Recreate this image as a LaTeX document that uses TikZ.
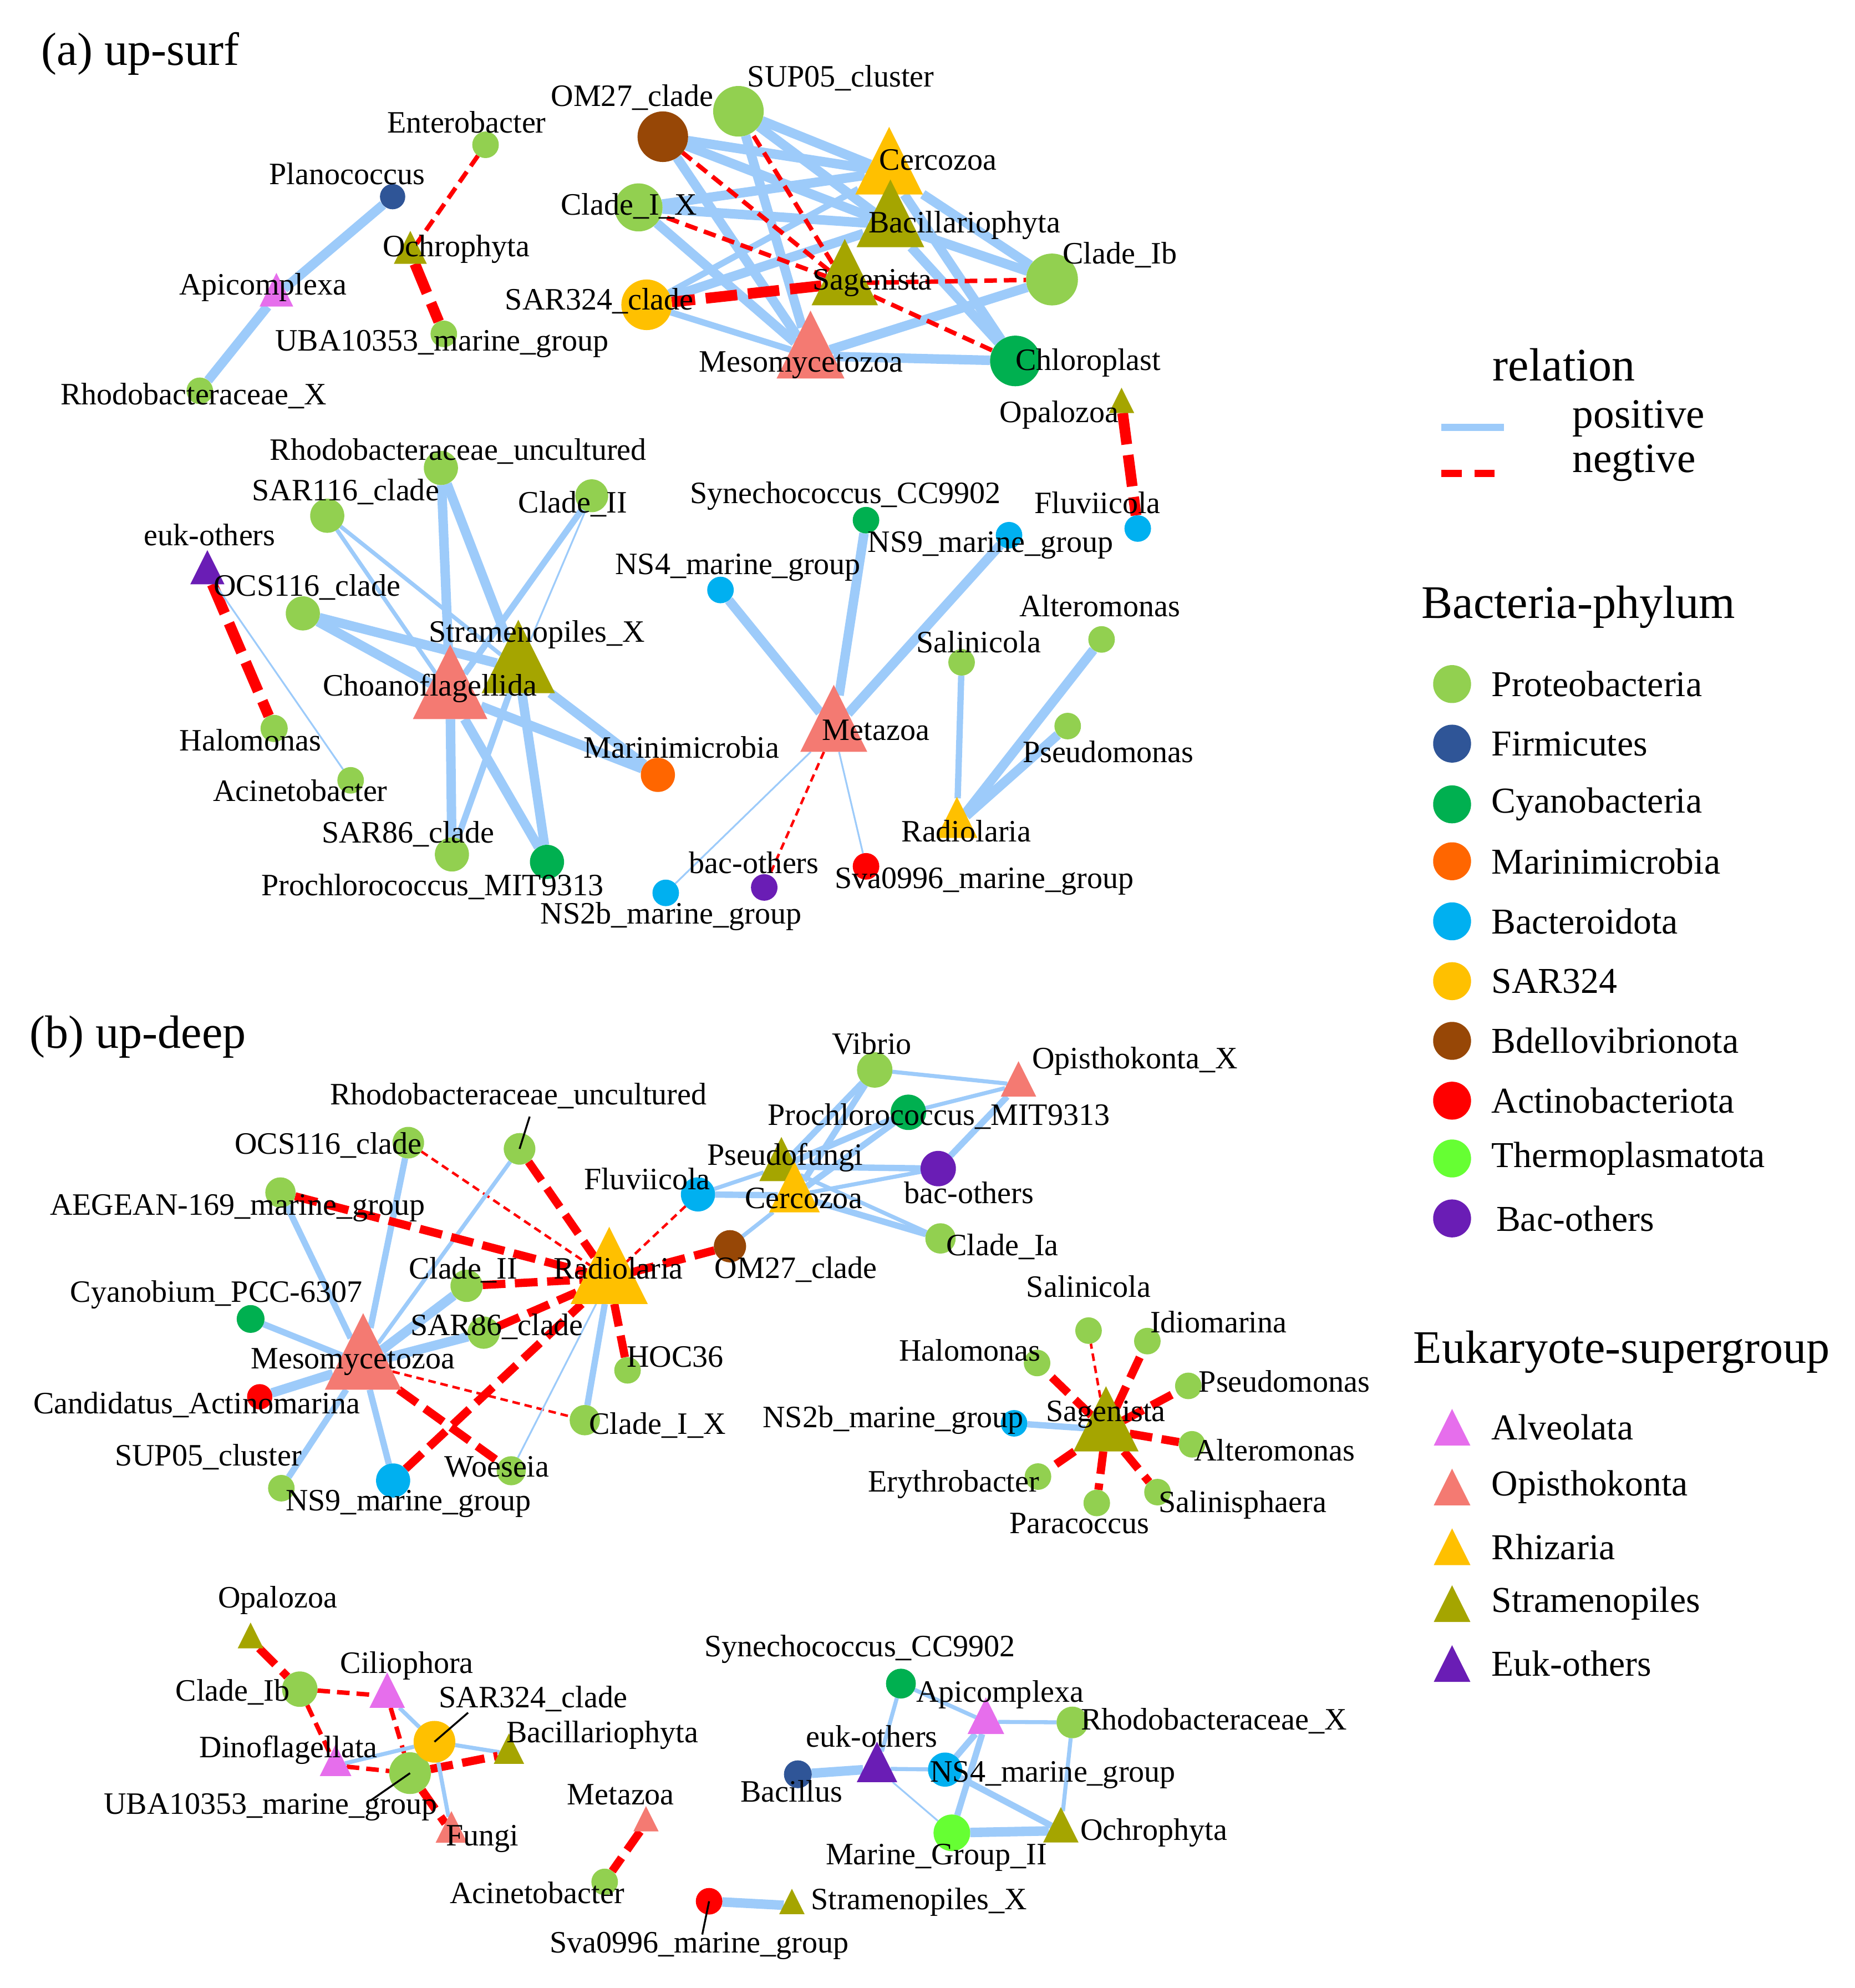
\documentclass[tikz,border=0pt]{standalone}
\usepackage{fontspec}
\setmainfont{Liberation Serif}
\usetikzlibrary{shapes.geometric}
\pgfdeclarelayer{background}
\pgfsetlayers{background,main}

\definecolor{proteo}{HTML}{92D050}
\definecolor{firmi}{HTML}{2F5597}
\definecolor{cyano}{HTML}{00B050}
\definecolor{marini}{HTML}{FF6600}
\definecolor{bactero}{HTML}{00B0F0}
\definecolor{sarclr}{HTML}{FFC000}
\definecolor{bdello}{HTML}{974706}
\definecolor{actino}{HTML}{FF0000}
\definecolor{thermo}{HTML}{66FF33}
\definecolor{bacoth}{HTML}{6A1DB5}
\definecolor{alveo}{HTML}{E66EEC}
\definecolor{opistho}{HTML}{F47A72}
\definecolor{rhiz}{HTML}{FFC000}
\definecolor{stram}{HTML}{A5A500}
\definecolor{eukoth}{HTML}{6A1DB5}
\definecolor{posline}{HTML}{9DCBFA}
\definecolor{negline}{HTML}{FF0000}

\tikzset{dot/.style={circle,inner sep=0pt,outer sep=0pt,minimum size=#1*0.1mm}}
\tikzset{tri/.style={regular polygon,regular polygon sides=3,inner sep=0pt,outer sep=0pt,minimum size=#1*0.11547mm,yscale=1.1547}}
\tikzstyle{posthin}=[draw=posline,line width=0.14mm]
\tikzstyle{posmid}=[draw=posline,line width=0.32mm]
\tikzstyle{poswide}=[draw=posline,line width=0.5mm]
\tikzstyle{posbold}=[draw=posline,line width=0.75mm]
\tikzstyle{negthin}=[draw=negline,line width=0.2mm,dash pattern=on 0.6mm off 0.38mm]
\tikzstyle{negmid}=[draw=negline,line width=0.35mm,dash pattern=on 1mm off 0.55mm]
\tikzstyle{negwide}=[draw=negline,line width=0.65mm,dash pattern=on 1.8mm off 0.75mm]
\tikzstyle{negbold}=[draw=negline,line width=0.85mm,dash pattern=on 2.5mm off 0.85mm]
\tikzstyle{lead}=[draw=black,line width=0.15mm]
\tikzstyle{lab}=[inner sep=0pt,font=\fontsize{7}{8}\selectfont]
\tikzstyle{ttl}=[inner sep=0pt,font=\fontsize{10.5}{12}\selectfont]
\tikzstyle{keyrel}=[inner sep=0pt,anchor=west,font=\fontsize{9.4}{11}\selectfont]
\tikzstyle{keyitem}=[inner sep=0pt,anchor=west,font=\fontsize{8.2}{10}\selectfont]

\begin{document}
\begin{tikzpicture}[x=0.1mm,y=-0.1mm]
\useasboundingbox (0,0) rectangle (1466.7,1571.9);

\node[ttl] (ttla) at (111,42.5) {(a) up-surf};
\node[ttl] (ttlb) at (109,819.8) {(b) up-deep};

\node[dot=21,fill=proteo] (enta) at (384,114.5) {};
\node[dot=20,fill=firmi] (planoa) at (310.5,155.5) {};
\node[tri=26,fill=stram] (ochroa) at (324.5,199.9) {};
\node[tri=26.5,fill=alveo] (apica) at (218.6,233.5) {};
\node[dot=21,fill=proteo] (ubaa) at (351,264) {};
\node[dot=21,fill=proteo] (rhodxa) at (158,309) {};
\node[dot=40,fill=bdello] (om27a) at (524.2,108.1) {};
\node[dot=40,fill=proteo] (sup05a) at (584,88) {};
\node[dot=38,fill=proteo] (cl1xa) at (505,164) {};
\node[dot=40,fill=sarclr] (sar324a) at (511.4,241) {};
\node[tri=53.5,fill=rhiz] (cercoa) at (703.2,136) {};
\node[tri=53.5,fill=stram] (bacila) at (704.2,177.6) {};
\node[tri=52.5,fill=stram] (sagena) at (668.1,223.9) {};
\node[tri=53.7,fill=opistho] (mesoa) at (641,281.4) {};
\node[dot=41,fill=proteo] (cl1ba) at (832,221) {};
\node[dot=40,fill=cyano] (chlora) at (803,285.4) {};
\node[tri=20,fill=stram] (opala) at (887,319.9) {};
\node[dot=21,fill=bactero] (fluva) at (899.8,417.9) {};

\node[dot=27,fill=proteo] (rhunca) at (348.7,370) {};
\node[dot=27,fill=proteo] (sar116a) at (258.8,407.8) {};
\node[dot=26,fill=proteo] (cl2a) at (468,392) {};
\node[tri=27,fill=eukoth] (eukoa) at (164,453) {};
\node[dot=27,fill=proteo] (ocsa) at (239.5,485) {};
\node[tri=58,fill=stram] (strxa) at (409.9,528.7) {};
\node[tri=59,fill=opistho] (choana) at (356,548.9) {};
\node[dot=21.5,fill=proteo] (haloa) at (216.8,576) {};
\node[dot=21,fill=proteo] (acina) at (277.3,617) {};
\node[dot=27,fill=marini] (marina) at (520.3,612.7) {};
\node[dot=27,fill=proteo] (sar86a) at (357.4,675.6) {};
\node[dot=27,fill=cyano] (prochla) at (432.6,681.5) {};
\node[dot=21,fill=bactero] (ns2ba) at (526.5,706) {};

\node[dot=21,fill=cyano] (synea) at (684.9,411.3) {};
\node[dot=21,fill=bactero] (ns9a) at (798,423.2) {};
\node[dot=21,fill=bactero] (ns4a) at (569.8,466.5) {};
\node[tri=53,fill=opistho] (metaa) at (659.4,576.8) {};
\node[dot=21,fill=proteo] (salia) at (760.5,523.7) {};
\node[dot=21,fill=proteo] (altea) at (871.2,505.6) {};
\node[dot=21,fill=proteo] (pseua) at (844.4,574.1) {};
\node[tri=32.5,fill=rhiz] (radia) at (756.8,651.7) {};
\node[dot=21,fill=bacoth] (bacoa) at (604.4,701.7) {};
\node[dot=21,fill=actino] (svaa) at (684.9,685) {};

\node[dot=25,fill=proteo] (rhuncb) at (410.9,908.4) {};
\node[dot=25,fill=proteo] (ocsb) at (322.9,903.5) {};
\node[dot=24,fill=proteo] (aegb) at (221.8,942.9) {};
\node[dot=27,fill=bactero] (fluvb) at (552,944.4) {};
\node[tri=61,fill=rhiz] (radib) at (481.8,1010.7) {};
\node[dot=25.5,fill=bdello] (om27b) at (577.3,985.4) {};
\node[dot=25.5,fill=proteo] (cl2b) at (369,1016.7) {};
\node[dot=22,fill=cyano] (cyanb) at (198.2,1042.9) {};
\node[dot=25.5,fill=proteo] (sar86b) at (382.5,1053.7) {};
\node[tri=60.5,fill=opistho] (mesob) at (287.2,1078.6) {};
\node[dot=21,fill=proteo] (hocb) at (496.3,1083.5) {};
\node[dot=20,fill=actino] (candb) at (205.4,1104.4) {};
\node[dot=24,fill=proteo] (cl1xb) at (462.5,1122.9) {};
\node[dot=21,fill=proteo] (sup05b) at (222.5,1176.7) {};
\node[dot=27,fill=bactero] (ns9b) at (310.9,1170.6) {};
\node[dot=23,fill=proteo] (woesb) at (404.3,1162.9) {};

\node[dot=28,fill=proteo] (vibrb) at (691.8,846) {};
\node[tri=28,fill=opistho] (opixb) at (805.5,857.7) {};
\node[dot=28,fill=cyano] (prochlb) at (718.4,879.5) {};
\node[tri=35,fill=stram] (psfub) at (618,922.3) {};
\node[dot=28,fill=bacoth] (bacob) at (742,924) {};
\node[tri=40,fill=rhiz] (cercob) at (628.3,945.2) {};
\node[dot=24,fill=proteo] (cl1ab) at (743.8,979.2) {};

\node[dot=21,fill=proteo] (salib) at (860.9,1052.1) {};
\node[dot=21,fill=proteo] (idiob) at (907.4,1060.4) {};
\node[dot=21,fill=proteo] (halob) at (820.2,1077.7) {};
\node[dot=21,fill=proteo] (pseub) at (939.8,1095.8) {};
\node[tri=51.5,fill=stram] (sagenb) at (874.7,1130.4) {};
\node[dot=21,fill=bactero] (ns2bb) at (802,1125.4) {};
\node[dot=21,fill=proteo] (alteb) at (942.7,1142) {};
\node[dot=21,fill=proteo] (erytb) at (820.9,1167.5) {};
\node[dot=21,fill=proteo] (salsb) at (915.4,1179.8) {};
\node[dot=21,fill=proteo] (paracb) at (867.4,1188.4) {};

\node[tri=20.4,fill=stram] (opalb) at (198.2,1296.5) {};
\node[dot=28,fill=proteo] (cl1bb) at (237.1,1335.6) {};
\node[tri=28,fill=alveo] (cilib) at (306.2,1341) {};
\node[tri=24,fill=stram] (bacilb) at (402.5,1386.6) {};
\node[tri=25,fill=alveo] (dinob) at (265.4,1396) {};
\node[dot=33,fill=proteo] (ubab) at (324.3,1402) {};
\node[dot=33,fill=sarclr] (sar324b) at (343.6,1377.2) {};
\node[tri=25,fill=opistho] (fungb) at (357,1448.7) {};
\node[tri=20,fill=opistho] (metab) at (510.9,1441.4) {};
\node[dot=21,fill=proteo] (acinb) at (478.2,1488) {};

\node[dot=23.6,fill=cyano] (syneb) at (712.5,1331.2) {};
\node[tri=29,fill=alveo] (apicb) at (779.7,1361.4) {};
\node[dot=25,fill=proteo] (rhodxb) at (848.1,1361.9) {};
\node[tri=32,fill=eukoth] (eukob) at (693.6,1398.5) {};
\node[dot=22,fill=firmi] (bacib) at (631,1402.9) {};
\node[dot=27,fill=bactero] (ns4b) at (747.4,1399.2) {};
\node[dot=29,fill=thermo] (mg2b) at (752.8,1449.2) {};
\node[tri=28,fill=stram] (ochrob) at (839,1447.5) {};
\node[dot=21,fill=actino] (svab) at (560.8,1503.3) {};
\node[tri=20,fill=stram] (strxb) at (626.3,1506.8) {};

\coordinate (rhuncb-end) at (418.9,882.9);
\coordinate (sar324b-end) at (370.2,1354.2);
\coordinate (ubab-end) at (292.7,1423.9);
\coordinate (svab-end) at (555.4,1529.6);

\begin{pgfonlayer}{background}
\path[posbold](planoa)--(apica);
\path[posbold](apica)--(rhodxa);
\path[negmid](enta)--(ochroa);
\path[negbold](ochroa)--(ubaa);

\path[posbold](om27a)--(cercoa);
\path[posbold](om27a)--(bacila);
\path[posbold](om27a)--(mesoa);
\path[posbold](sup05a)--(cercoa);
\path[posbold](sup05a)--(bacila);
\path[posbold](sup05a)--(mesoa);
\path[posbold](cl1xa)--(cercoa);
\path[posbold](cl1xa)--(bacila);
\path[posbold](cl1xa)--(mesoa);
\path[poswide](sar324a)--(cercoa);
\path[posbold](sar324a)--(bacila);
\path[poswide](sar324a)--(mesoa);
\path[posbold](cl1ba)--(cercoa);
\path[posbold](cl1ba)--(bacila);
\path[posbold](cl1ba)--(mesoa);
\path[posbold](chlora)--(cercoa);
\path[posbold](chlora)--(bacila);
\path[posbold](chlora)--(mesoa);
\path[negmid](sagena)--(om27a);
\path[negmid](sagena)--(sup05a);
\path[negmid](sagena)--(cl1xa);
\path[negmid](sagena)--(cl1ba);
\path[negmid](sagena)--(chlora);
\path[negbold](sagena)--(sar324a);
\path[negbold](opala)--(fluva);

\path[posmid](sar116a)--(choana);
\path[posmid](sar116a)--(strxa);
\path[posbold](rhunca)--(choana);
\path[posbold](rhunca)--(strxa);
\path[poswide](cl2a)--(choana);
\path[posthin](cl2a)--(strxa);
\path[posbold](ocsa)--(choana);
\path[posbold](ocsa)--(strxa);
\path[posbold](choana)--(marina);
\path[posbold](strxa)--(marina);
\path[posbold](choana)--(sar86a);
\path[poswide](strxa)--(sar86a);
\path[posbold](choana)--(prochla);
\path[posbold](strxa)--(prochla);
\path[negbold](eukoa)--(haloa);
\path[posthin](eukoa)--(acina);

\path[posbold](ns4a)--(metaa);
\path[posbold](synea)--(metaa);
\path[posbold](ns9a)--(metaa);
\path[posthin](metaa)--(ns2ba);
\path[negthin](metaa)--(bacoa);
\path[posthin](metaa)--(svaa);
\path[poswide](salia)--(radia);
\path[posbold](altea)--(radia);
\path[posbold](pseua)--(radia);

\path[negthin](ocsb)--(radib);
\path[poswide](ocsb)--(mesob);
\path[negwide](rhuncb)--(radib);
\path[posmid](rhuncb)--(mesob);
\path[negwide](aegb)--(radib);
\path[poswide](aegb)--(mesob);
\path[negthin](fluvb)--(radib);
\path[negwide](cl2b)--(radib);
\path[posbold](cl2b)--(mesob);
\path[poswide](cyanb)--(mesob);
\path[negwide](sar86b)--(radib);
\path[posbold](sar86b)--(mesob);
\path[posbold](mesob)--(candb);
\path[poswide](mesob)--(sup05b);
\path[poswide](mesob)--(ns9b);
\path[negwide](mesob)--(woesb);
\path[negthin](mesob)--(cl1xb);
\path[negwide](ns9b)--(radib);
\path[negwide](radib)--(hocb);
\path[poswide](radib)--(cl1xb);
\path[posthin](radib)--(woesb);
\path[negwide](radib)--(om27b);

\path[posmid](vibrb)--(opixb);
\path[poswide](vibrb)--(psfub);
\path[poswide](vibrb)--(cercob);
\path[posmid](prochlb)--(opixb);
\path[poswide](prochlb)--(psfub);
\path[poswide](prochlb)--(cercob);
\path[poswide](opixb)--(bacob);
\path[poswide](bacob)--(psfub);
\path[posmid](bacob)--(cercob);
\path[posmid](fluvb)--(psfub);
\path[poswide](fluvb)--(cercob);
\path[posmid](om27b)--(cercob);
\path[poswide](cercob)--(cl1ab);
\path[posmid](psfub)--(cl1ab);

\path[poswide](ns2bb)--(sagenb);
\path[negthin](sagenb)--(salib);
\path[negwide](sagenb)--(idiob);
\path[negwide](sagenb)--(halob);
\path[negwide](sagenb)--(pseub);
\path[negwide](sagenb)--(alteb);
\path[negwide](sagenb)--(erytb);
\path[negwide](sagenb)--(salsb);
\path[negwide](sagenb)--(paracb);

\path[negwide](opalb)--(cl1bb);
\path[negmid](cl1bb)--(cilib);
\path[negmid](cl1bb)--(dinob);
\path[posmid](cilib)--(sar324b);
\path[negmid](cilib)--(ubab);
\path[posmid](dinob)--(sar324b);
\path[negmid](dinob)--(ubab);
\path[posmid](sar324b)--(bacilb);
\path[negwide](ubab)--(bacilb);
\path[negwide](ubab)--(fungb);
\path[posmid](sar324b)--(fungb);
\path[negwide](metab)--(acinb);

\path[posmid](syneb)--(apicb);
\path[posmid](syneb)--(eukob);
\path[posmid](apicb)--(rhodxb);
\path[poswide](apicb)--(ns4b);
\path[poswide](apicb)--(mg2b);
\path[posmid](rhodxb)--(ochrob);
\path[posbold](eukob)--(bacib);
\path[posmid](eukob)--(ns4b);
\path[posthin](eukob)--(mg2b);
\path[poswide](ns4b)--(ochrob);
\path[posbold](mg2b)--(ochrob);
\path[posbold](svab)--(strxb);
\end{pgfonlayer}

\path[lead](rhuncb.center)--(rhuncb-end);
\path[lead](sar324b.center)--(sar324b-end);
\path[lead](ubab.center)--(ubab-end);
\path[lead](svab.center)--(svab-end);

\node[lab] (enta-t) at (369,96.7) {Enterobacter};
\node[lab] (planoa-t) at (274.5,137.6) {Planococcus};
\node[lab] (ochroa-t) at (360.8,197) {Ochrophyta};
\node[lab] (apica-t) at (208,227) {Apicomplexa};
\node[lab] (ubaa-t) at (349.5,272) {UBA10353\_marine\_group};
\node[lab] (rhodxa-t) at (153,313) {Rhodobacteraceae\_X};
\node[lab] (om27a-t) at (500,77) {OM27\_clade};
\node[lab] (sup05a-t) at (665,61.5) {SUP05\_cluster};
\node[lab] (cl1xa-t) at (497.5,163) {Clade\_I\_X};
\node[lab] (sar324a-t) at (474,238) {SAR324\_clade};
\node[lab] (cercoa-t) at (742,126.4) {Cercozoa};
\node[lab] (bacila-t) at (762.7,178) {Bacillariophyta};
\node[lab] (cl1ba-t) at (885.6,201.4) {Clade\_Ib};
\node[lab] (sagena-t) at (690,223.8) {Sagenista};
\node[lab] (mesoa-t) at (633.5,288.7) {Mesomycetozoa};
\node[lab] (chlora-t) at (860.6,287) {Chloroplast};
\node[lab] (opala-t) at (837.7,328) {Opalozoa};
\node[lab] (fluva-t) at (868,397.5) {Fluviicola};

\node[lab] (rhunca-t) at (362.4,357) {Rhodobacteraceae\_uncultured};
\node[lab] (sar116a-t) at (273.3,388.7) {SAR116\_clade};
\node[lab] (cl2a-t) at (453,398.5) {Clade\_II};
\node[lab] (eukoa-t) at (165.8,423) {euk-others};
\node[lab] (ocsa-t) at (243,464.4) {OCS116\_clade};
\node[lab] (strxa-t) at (424.5,501.6) {Stramenopiles\_X};
\node[lab] (choana-t) at (340,544) {Choanoflagellida};
\node[lab] (haloa-t) at (198,585.3) {Halomonas};
\node[lab] (acina-t) at (237.4,625) {Acinetobacter};
\node[lab] (marina-t) at (539,591) {Marinimicrobia};
\node[lab] (sar86a-t) at (322.8,659.7) {SAR86\_clade};
\node[lab] (prochla-t) at (342,701) {Prochlorococcus\_MIT9313};
\node[lab] (ns2ba-t) at (530.7,724.8) {NS2b\_marine\_group};

\node[lab] (synea-t) at (668.6,392) {Synechococcus\_CC9902};
\node[lab] (ns9a-t) at (783.3,431) {NS9\_marine\_group};
\node[lab] (ns4a-t) at (583.6,448.5) {NS4\_marine\_group};
\node[lab] (metaa-t) at (692.7,577.3) {Metazoa};
\node[lab] (salia-t) at (774,507.5) {Salinicola};
\node[lab] (altea-t) at (869.7,479) {Alteromonas};
\node[lab] (pseua-t) at (876.4,594.6) {Pseudomonas};
\node[lab] (radia-t) at (764.2,657) {Radiolaria};
\node[lab] (bacoa-t) at (596.3,682.3) {bac-others};
\node[lab] (svaa-t) at (778.4,696.9) {Sva0996\_marine\_group};

\node[lab] (rhuncb-t) at (410,866.6) {Rhodobacteraceae\_uncultured};
\node[lab] (ocsb-t) at (259.6,905.4) {OCS116\_clade};
\node[lab] (aegb-t) at (187.8,955.2) {AEGEAN-169\_marine\_group};
\node[lab] (fluvb-t) at (511.8,932) {Fluviicola};
\node[lab] (radib-t) at (489,1002.9) {Radiolaria};
\node[lab] (om27b-t) at (629.5,1003.8) {OM27\_clade};
\node[lab] (cl2b-t) at (366.3,1004.4) {Clade\_II};
\node[lab] (cyanb-t) at (171.2,1023.5) {Cyanobium\_PCC-6307};
\node[lab] (sar86b-t) at (393,1049) {SAR86\_clade};
\node[lab] (mesob-t) at (279,1076.7) {Mesomycetozoa};
\node[lab] (hocb-t) at (534,1073) {HOC36};
\node[lab] (candb-t) at (155.5,1110.6) {Candidatus\_Actinomarina};
\node[lab] (cl1xb-t) at (520,1127) {Clade\_I\_X};
\node[lab] (sup05b-t) at (164.7,1152.1) {SUP05\_cluster};
\node[lab] (ns9b-t) at (323,1189) {NS9\_marine\_group};
\node[lab] (woesb-t) at (393,1159.8) {Woeseia};

\node[lab] (vibrb-t) at (689.5,825.4) {Vibrio};
\node[lab] (opixb-t) at (897.6,838.9) {Opisthokonta\_X};
\node[lab] (prochlb-t) at (742.4,882.9) {Prochlorococcus\_MIT9313};
\node[lab] (psfub-t) at (621,915.2) {Pseudofungi};
\node[lab] (bacob-t) at (766.4,942.9) {bac-others};
\node[lab] (cercob-t) at (635.5,947.5) {Cercozoa};
\node[lab] (cl1ab-t) at (792.7,986) {Clade\_Ia};

\node[lab] (salib-t) at (861,1017.4) {Salinicola};
\node[lab] (idiob-t) at (963.7,1045.4) {Idiomarina};
\node[lab] (halob-t) at (767,1067.5) {Halomonas};
\node[lab] (pseub-t) at (1015.8,1092.1) {Pseudomonas};
\node[lab] (sagenb-t) at (874.6,1118.3) {Sagenista};
\node[lab] (ns2bb-t) at (706.4,1122.9) {NS2b\_marine\_group};
\node[lab] (alteb-t) at (1008,1146.6) {Alteromonas};
\node[lab] (erytb-t) at (754.3,1173.7) {Erythrobacter};
\node[lab] (salsb-t) at (982.8,1189.7) {Salinisphaera};
\node[lab] (paracb-t) at (853.7,1204.4) {Paracoccus};

\node[lab] (opalb-t) at (219.6,1265.4) {Opalozoa};
\node[lab] (cl1bb-t) at (184,1337.8) {Clade\_Ib};
\node[lab] (cilib-t) at (321.8,1316.9) {Ciliophora};
\node[lab] (sar324b-t) at (421.7,1343.2) {SAR324\_clade};
\node[lab] (bacilb-t) at (476.4,1371.8) {Bacillariophyta};
\node[lab] (dinob-t) at (228.2,1383.8) {Dinoflagellata};
\node[lab] (ubab-t) at (214,1428.8) {UBA10353\_marine\_group};
\node[lab] (fungb-t) at (381.6,1454) {Fungi};
\node[lab] (metab-t) at (490.9,1418.9) {Metazoa};
\node[lab] (acinb-t) at (424.7,1496.8) {Acinetobacter};

\node[lab] (syneb-t) at (680,1303.8) {Synechococcus\_CC9902};
\node[lab] (apicb-t) at (790.9,1339.9) {Apicomplexa};
\node[lab] (rhodxb-t) at (960,1360.8) {Rhodobacteraceae\_X};
\node[lab] (eukob-t) at (689.6,1372.8) {euk-others};
\node[lab] (bacib-t) at (626,1416.3) {Bacillus};
\node[lab] (ns4b-t) at (832.7,1403.5) {NS4\_marine\_group};
\node[lab] (mg2b-t) at (740.5,1468.9) {Marine\_Group\_II};
\node[lab] (ochrob-t) at (912.6,1449.2) {Ochrophyta};
\node[lab] (svab-t) at (553,1538.4) {Sva0996\_marine\_group};
\node[lab] (strxb-t) at (726.8,1504) {Stramenopiles\_X};

\node[ttl] (relkey) at (1237,288.5) {relation};
\coordinate (posk1) at (1140,338);
\coordinate (posk2) at (1189.6,338);
\coordinate (negk1) at (1140,374.3);
\coordinate (negk2) at (1184,374.3);
\path[draw=posline,line width=0.55mm](posk1)--(posk2);
\path[draw=negline,line width=0.6mm,dash pattern=on 1.6mm off 1.0mm](negk1)--(negk2);
\node[keyrel] (posk-t) at (1243,331) {positive};
\node[keyrel] (negk-t) at (1243,366.3) {negtive};

\node[ttl] (backey) at (1248.4,479.8) {Bacteria-phylum};
\node[dot=30,fill=proteo] (k1) at (1148.4,540.9) {};
\node[dot=30,fill=firmi] (k2) at (1148.4,588) {};
\node[dot=30,fill=cyano] (k3) at (1148.4,636) {};
\node[dot=30,fill=marini] (k4) at (1148.4,681) {};
\node[dot=30,fill=bactero] (k5) at (1148.4,728.5) {};
\node[dot=30,fill=sarclr] (k6) at (1148.4,775.8) {};
\node[dot=30,fill=bdello] (k7) at (1148.4,823) {};
\node[dot=30,fill=actino] (k8) at (1148.4,870.3) {};
\node[dot=30,fill=thermo] (k9) at (1148.4,916) {};
\node[dot=30,fill=bacoth] (k10) at (1148.4,963.4) {};
\node[keyitem] (k1-t) at (1179,540.9) {Proteobacteria};
\node[keyitem] (k2-t) at (1179,588) {Firmicutes};
\node[keyitem] (k3-t) at (1179,636) {Cyanobacteria};
\node[keyitem] (k4-t) at (1179,681) {Marinimicrobia};
\node[keyitem] (k5-t) at (1179,728.5) {Bacteroidota};
\node[keyitem] (k6-t) at (1179,775.8) {SAR324};
\node[keyitem] (k7-t) at (1179,823) {Bdellovibrionota};
\node[keyitem] (k8-t) at (1179,870.3) {Actinobacteriota};
\node[keyitem] (k9-t) at (1179,916) {Thermoplasmatota};
\node[keyitem] (k10-t) at (1182.6,963.4) {Bac-others};

\node[ttl] (eukkey) at (1282.5,1068.8) {Eukaryote-supergroup};
\node[tri=29,fill=alveo] (e1) at (1148.4,1133.3) {};
\node[tri=29,fill=opistho] (e2) at (1148.4,1180.6) {};
\node[tri=29,fill=rhiz] (e3) at (1148.4,1227.8) {};
\node[tri=29,fill=stram] (e4) at (1148.4,1272.8) {};
\node[tri=29,fill=eukoth] (e5) at (1148.4,1320.2) {};
\node[keyitem] (e1-t) at (1179,1128.5) {Alveolata};
\node[keyitem] (e2-t) at (1179,1175.8) {Opisthokonta};
\node[keyitem] (e3-t) at (1179,1223) {Rhizaria};
\node[keyitem] (e4-t) at (1179,1268) {Stramenopiles};
\node[keyitem] (e5-t) at (1179,1315.4) {Euk-others};

\end{tikzpicture}
\end{document}
